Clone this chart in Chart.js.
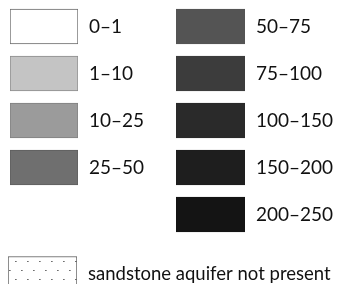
<!DOCTYPE html>
<html>
<head>
<meta charset="utf-8">
<script src="https://cdn.jsdelivr.net/npm/chart.js@4/dist/chart.umd.min.js"></script>
<style>
  html, body { margin: 0; padding: 0; background: #fff; overflow: hidden; width: 341px; height: 284px; }
  canvas { position: absolute; }
</style>
</head>
<body>
<canvas id="leftCol" width="170" height="191" style="left:0;top:0"></canvas>
<canvas id="rightCol" width="171" height="238" style="left:170px;top:0"></canvas>
<canvas id="noAquifer" width="341" height="70" style="left:0;top:239px"></canvas>
<script>
// legend classes (left column, right column, and the extra "not present" key)
const leftLabels = ['0–1', '1–10', '10–25', '25–50'];
const leftValues = [1, 1, 1, 1];
const rightLabels = ['50–75', '75–100', '100–150', '150–200', '200–250'];
const rightValues = [1, 1, 1, 1, 1];
const extraLabels = ['sandstone aquifer not present'];
const extraValues = [1];

// grey ramp, light to dark
const leftFill = ['#ffffff', '#c4c4c4', '#9b9b9b', '#6f6f6f'];
const leftEdge = ['#6a6a6a', '#8c8c8c', '#808080', '#5e5e5e'];
const rightFill = ['#545454', '#3c3c3c', '#2a2a2a', '#1e1e1e', '#141414'];

// dotted fill for the "not present" key
function dotPattern(){
  const tile = document.createElement('canvas');
  tile.width = 12; tile.height = 18;
  const t = tile.getContext('2d');
  t.fillStyle = '#fff';
  t.fillRect(0, 0, 12, 18);
  t.fillStyle = '#9a9a9a';
  t.fillRect(3, 4, 2, 1);
  t.fillRect(9, 13, 2, 1);
  t.fillStyle = '#6e6e6e';
  t.fillRect(3, 4, 1, 1);
  t.fillRect(9, 13, 1, 1);
  return t.createPattern(tile, 'repeat');
}

function swatchChart(id, labels, values, fill, edge, pad, axisWidth, fontSize){
  return new Chart(document.getElementById(id), {
    type: 'bar',
    data: {
      labels: labels,
      datasets: [{
        data: values,
        backgroundColor: fill,
        borderColor: edge,
        borderWidth: 1,
        borderSkipped: false,
        barThickness: 35
      }]
    },
    options: {
      indexAxis: 'y',
      responsive: false,
      animation: false,
      layout: { padding: pad },
      plugins: { legend: { display: false }, tooltip: { enabled: false } },
      scales: {
        x: { display: false, min: 0, max: 1 },
        y: {
          position: 'right',
          grid: { display: false, drawTicks: false },
          border: { display: false },
          ticks: {
            padding: 11,
            color: '#111111',
            font: { family: 'Lato', size: fontSize }
          },
          // fixed label column, and no extra room above/below the swatches
          afterFit: (scale) => {
            scale.width = axisWidth;
            scale.paddingTop = 0;
            scale.paddingBottom = 0;
          }
        }
      }
    }
  });
}

swatchChart('leftCol', leftLabels, leftValues, leftFill, leftEdge, { left: 10, top: 3 }, 92, 19);
swatchChart('rightCol', rightLabels, rightValues, rightFill, rightFill, { left: 6, top: 3 }, 96, 19);
const pat = dotPattern();
swatchChart('noAquifer', extraLabels, extraValues, [pat], ['#555555'], { left: 8, top: 0 }, 264, 18.5);
</script>
</body>
</html>
